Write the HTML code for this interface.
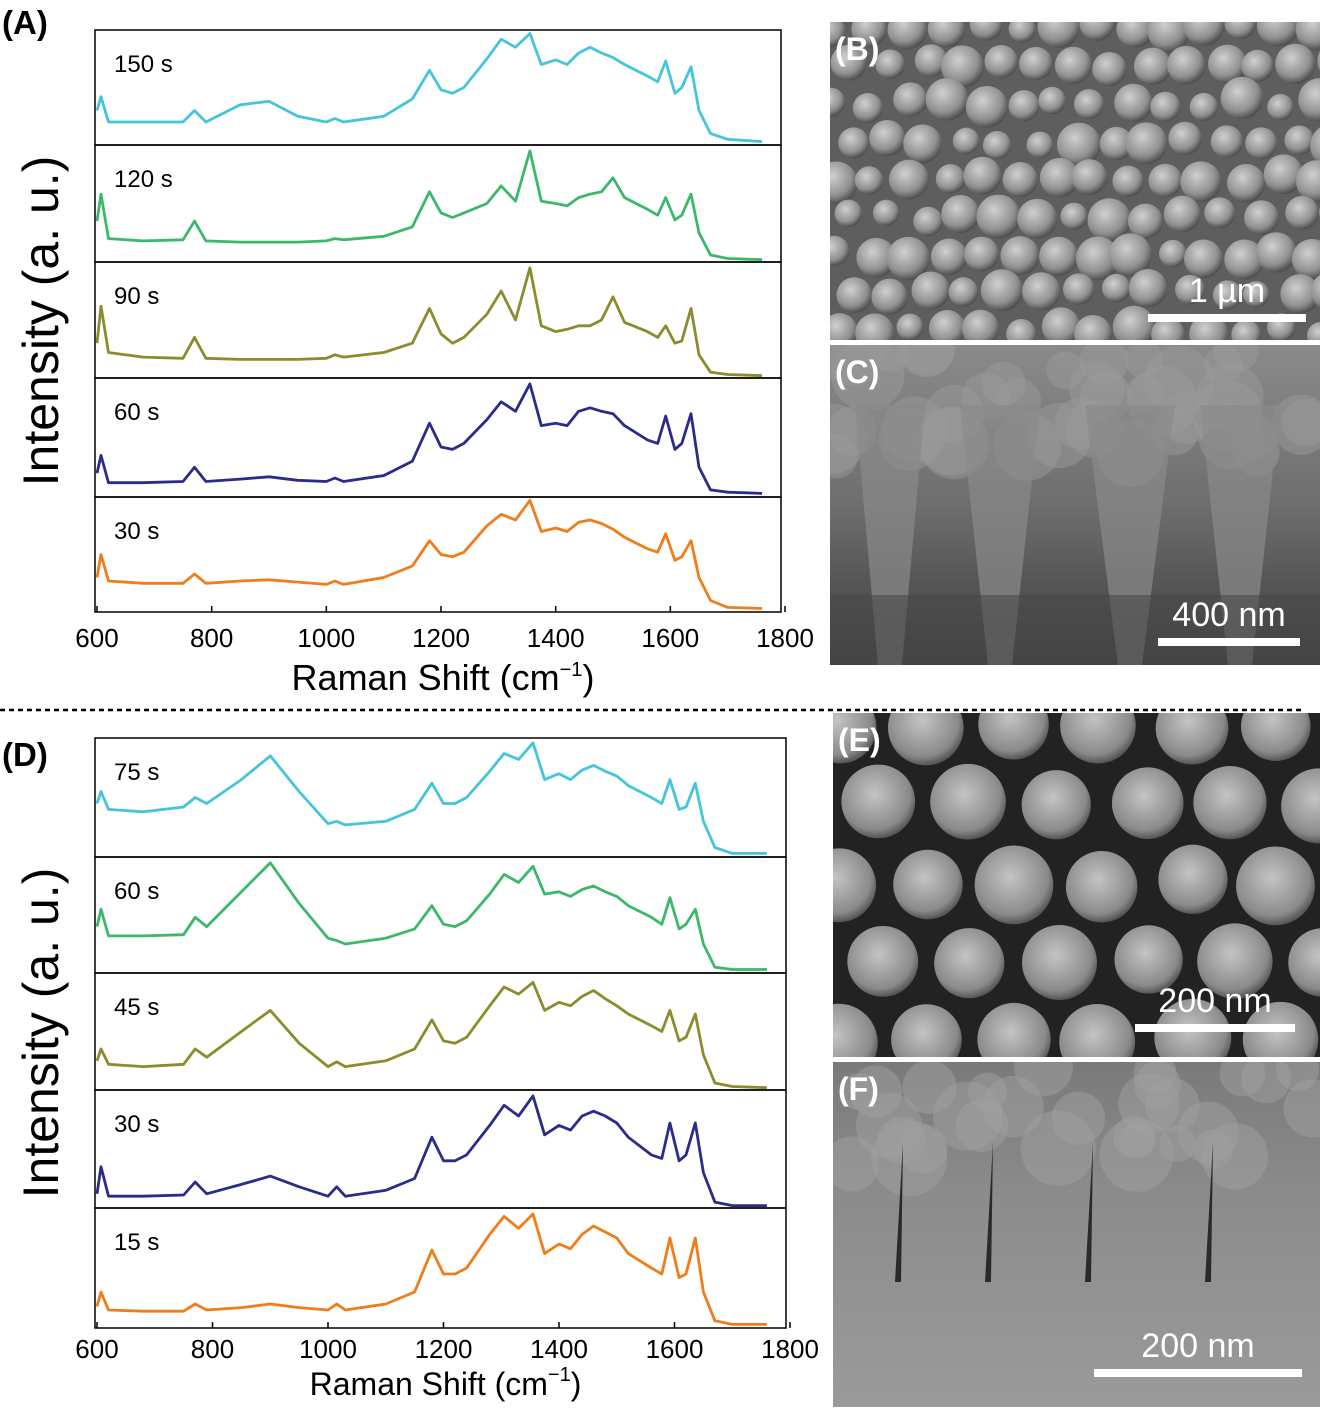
<!DOCTYPE html>
<html><head><meta charset="utf-8"><style>
html,body{margin:0;padding:0;background:#fff;}
svg{display:block;font-family:"Liberation Sans",Arial,sans-serif;}
</style></head>
<body>
<svg id="fig" width="1324" height="1410" viewBox="0 0 1324 1410" xmlns="http://www.w3.org/2000/svg">
<defs>
<radialGradient id="gB" cx="40%" cy="35%" r="65%"><stop offset="0" stop-color="#d0d0d0"/><stop offset="0.7" stop-color="#909090"/><stop offset="1" stop-color="#505050"/></radialGradient>
<radialGradient id="gE" cx="45%" cy="40%" r="60%"><stop offset="0" stop-color="#c4c4c4"/><stop offset="0.8" stop-color="#8a8a8a"/><stop offset="1" stop-color="#555"/></radialGradient>
<linearGradient id="gC" x1="0" y1="0" x2="0" y2="1"><stop offset="0" stop-color="#8a8a8a"/><stop offset="0.5" stop-color="#6e6e6e"/><stop offset="1" stop-color="#3c3c3c"/></linearGradient>
<linearGradient id="gF" x1="0" y1="0" x2="0" y2="1"><stop offset="0" stop-color="#7a7a7a"/><stop offset="0.4" stop-color="#8c8c8c"/><stop offset="1" stop-color="#9a9a9a"/></linearGradient>
</defs>
<g id="charts"></g>
<g id="sem"></g>
<line x1="0" y1="710" x2="1305" y2="710" stroke="#000" stroke-width="2.5" stroke-dasharray="5,4"/>
</svg>
<script>
const NS="http://www.w3.org/2000/svg";
// ---- chart data ----
const wavenumbers=[600,607,620,680,750,770,790,850,900,950,1000,1015,1030,1100,1150,1180,1200,1220,1240,1280,1305,1330,1355,1375,1400,1420,1440,1460,1480,1500,1520,1560,1578,1592,1608,1620,1636,1650,1670,1700,1760];
const xTickValues=[600,800,1000,1200,1400,1600,1800];
const xTickLabels=["600","800","1000","1200","1400","1600","1800"];
const labelsA=["150 s","120 s","90 s","60 s","30 s"];
const labelsD=["75 s","60 s","45 s","30 s","15 s"];
const colors=["#45c4dc","#3cb86a","#8c8c2e","#2b2b8a","#f07d1a"];
const seriesA150=[0.3,0.42,0.2,0.2,0.2,0.3,0.2,0.35,0.38,0.25,0.2,0.23,0.2,0.25,0.4,0.65,0.48,0.45,0.5,0.75,0.92,0.85,0.97,0.7,0.74,0.7,0.8,0.85,0.8,0.76,0.7,0.6,0.55,0.73,0.45,0.5,0.68,0.3,0.1,0.05,0.03];
const seriesA120=[0.35,0.58,0.2,0.18,0.19,0.35,0.18,0.17,0.17,0.17,0.18,0.2,0.19,0.22,0.3,0.6,0.42,0.38,0.42,0.5,0.65,0.52,0.95,0.52,0.5,0.48,0.55,0.58,0.6,0.72,0.55,0.45,0.4,0.55,0.36,0.4,0.58,0.25,0.06,0.03,0.02];
const seriesA90=[0.3,0.62,0.22,0.18,0.17,0.35,0.17,0.16,0.16,0.16,0.17,0.2,0.18,0.22,0.3,0.6,0.38,0.3,0.35,0.55,0.75,0.5,0.95,0.45,0.4,0.42,0.45,0.45,0.5,0.7,0.48,0.4,0.35,0.45,0.3,0.32,0.6,0.2,0.05,0.03,0.02];
const seriesA60=[0.2,0.35,0.12,0.12,0.13,0.25,0.13,0.15,0.17,0.14,0.13,0.16,0.13,0.18,0.3,0.62,0.42,0.4,0.45,0.65,0.8,0.72,0.95,0.6,0.62,0.6,0.72,0.75,0.72,0.7,0.6,0.48,0.45,0.68,0.4,0.45,0.7,0.25,0.06,0.04,0.03];
const seriesA30=[0.3,0.5,0.27,0.25,0.25,0.33,0.25,0.27,0.28,0.26,0.24,0.27,0.24,0.3,0.4,0.62,0.5,0.48,0.52,0.75,0.85,0.8,0.97,0.7,0.73,0.7,0.78,0.8,0.77,0.72,0.65,0.55,0.52,0.68,0.45,0.48,0.62,0.3,0.1,0.04,0.03];
const seriesD75=[0.45,0.55,0.4,0.38,0.42,0.5,0.45,0.65,0.85,0.55,0.28,0.3,0.27,0.3,0.4,0.62,0.45,0.45,0.5,0.72,0.87,0.82,0.96,0.65,0.7,0.65,0.73,0.77,0.72,0.68,0.6,0.5,0.45,0.65,0.4,0.42,0.62,0.3,0.08,0.03,0.03];
const seriesD60=[0.4,0.55,0.32,0.32,0.33,0.48,0.4,0.7,0.95,0.6,0.3,0.28,0.25,0.3,0.38,0.58,0.42,0.4,0.45,0.68,0.85,0.78,0.92,0.68,0.7,0.66,0.72,0.75,0.7,0.66,0.58,0.48,0.42,0.65,0.38,0.42,0.55,0.25,0.05,0.03,0.03];
const seriesD45=[0.25,0.35,0.22,0.2,0.22,0.35,0.28,0.5,0.68,0.4,0.2,0.24,0.2,0.25,0.35,0.6,0.42,0.4,0.45,0.72,0.88,0.82,0.92,0.68,0.75,0.72,0.8,0.85,0.78,0.72,0.65,0.55,0.5,0.68,0.42,0.45,0.65,0.3,0.06,0.03,0.02];
const seriesD30=[0.12,0.35,0.1,0.1,0.11,0.22,0.12,0.2,0.27,0.18,0.1,0.18,0.1,0.15,0.25,0.6,0.4,0.4,0.45,0.7,0.87,0.78,0.95,0.62,0.7,0.66,0.78,0.82,0.78,0.72,0.6,0.45,0.42,0.72,0.4,0.45,0.72,0.3,0.05,0.02,0.02];
const seriesD15=[0.18,0.3,0.15,0.14,0.14,0.2,0.15,0.17,0.2,0.17,0.15,0.2,0.15,0.2,0.3,0.65,0.45,0.45,0.5,0.78,0.93,0.83,0.95,0.62,0.7,0.66,0.78,0.85,0.8,0.75,0.62,0.5,0.45,0.75,0.42,0.45,0.75,0.3,0.06,0.03,0.03];

const charts=document.getElementById('charts');
function mk(tag,attrs,parent){const e=document.createElementNS(NS,tag);for(const k in attrs)e.setAttribute(k,attrs[k]);(parent||charts).appendChild(e);return e;}
function txt(s,attrs,parent){const e=mk('text',attrs,parent);e.textContent=s;return e;}

function panel(id,letter,labelY,boxEdges,xl,xr,series,labels,tickDy,titleDy,titleSize){
  const g=mk('g',{});
  
  
  const xScale=v=>xl+(v-600)/(1800-600)*(xr-xl);
  const pl=txt('('+letter+')',{x:2,y:labelY,'font-size':33,'font-weight':'bold'},g);
  
  
  for(let i=0;i<series.length;i++){
    const top=boxEdges[i],bot=boxEdges[i+1],h=bot-top;
    const yScale=f=>bot-f*h;
    const box=mk('rect',{x:xl-2,y:top,width:xr-xl-2,height:h,fill:'none',stroke:'#000','stroke-width':1.5},g);
    
    
    const pts=wavenumbers.filter(w=>w<=1760).map((w,j)=>xScale(w).toFixed(1)+','+yScale(series[i][j]).toFixed(1)).join(' ');
    const line=mk('polyline',{points:pts,fill:'none',stroke:colors[i],'stroke-width':2.8,'stroke-linejoin':'round'},g);
    
    
    const lb=txt(labels[i],{x:xl+17,y:top+42,'font-size':24},g);
    
    
  }
  const bottom=boxEdges[boxEdges.length-1];
  xTickValues.forEach((v,i)=>{
    const t=mk('line',{x1:xScale(v),x2:xScale(v),y1:bottom,y2:bottom-6,stroke:'#000','stroke-width':1.5},g);
    
    
    const l=txt(xTickLabels[i],{x:xScale(v),y:bottom+tickDy,'font-size':26,'text-anchor':'middle'},g);
    
    
  });
  const xt=txt('',{x:(xl+xr)/2+2,y:bottom+titleDy,'font-size':titleSize,'text-anchor':'middle'},g);
  xt.innerHTML='Raman Shift (cm<tspan dy="-14" font-size="20">−1</tspan><tspan dy="14">)</tspan>';
  
  
  const cy=(boxEdges[0]+bottom)/2;
  const yt=txt('Intensity (a. u.)',{x:0,y:0,'font-size':50,'text-anchor':'middle',transform:'translate(58,'+cy+') rotate(-90)'},g);
  
  
}
panel('a','A',34,[30,145,262,378,497,612],97,785,[seriesA150,seriesA120,seriesA90,seriesA60,seriesA30],labelsA,35,78,36);
panel('d','D',766,[738,857,973,1090,1208,1328],97,790,[seriesD75,seriesD60,seriesD45,seriesD30,seriesD15],labelsD,30,67,32);

// ---- SEM images (decorative) ----
const sem=document.getElementById('sem');
let seed=7;function rnd(){seed=(seed*16807)%2147483647;return seed/2147483647;}
function semImg(name,letter,x,y,w,h,bg,kind,bar,barLabel){
  const g=mk('g',{},sem);
  
  
  const cp=mk('clipPath',{id:'cp'+letter},g);
  mk('rect',{x:x,y:y,width:w,height:h},cp);
  const inner=mk('g',{'clip-path':'url(#cp'+letter+')'},g);
  mk('rect',{x:x,y:y,width:w,height:h,fill:bg},inner);
  if(kind==='grains'){
    for(let r=0;r<9;r++)for(let c=0;c<14;c++){
      const cx=x+c*37+(r%2)*18+rnd()*10,cyy=y+r*38+rnd()*10,rad=13+rnd()*9;
      mk('circle',{cx:cx,cy:cyy,r:rad,fill:'url(#gB)'},inner);
    }
  }else if(kind==='hex'){
    for(let r=0;r<5;r++)for(let c=0;c<6;c++){
      const cx=x+c*88+(r%2)*44+rnd()*8,cyy=y+10+r*78+rnd()*8,rad=34+rnd()*6;
      mk('circle',{cx:cx,cy:cyy,r:rad,fill:'url(#gE)'},inner);
    }
  }else if(kind==='pillars'){
    for(let i=0;i<40;i++){
      mk('circle',{cx:x+rnd()*w,cy:y+rnd()*h*0.35,r:18+rnd()*20,fill:'#9a9a9a',opacity:0.5},inner);
    }
    [[x+60,70],[x+170,80],[x+300,90],[x+410,80]].forEach(p=>{
      mk('path',{d:'M'+(p[0]-p[1]/2)+','+(y+60)+' L'+(p[0]+p[1]/2)+','+(y+60)+' L'+(p[0]+12)+','+(y+h)+' L'+(p[0]-12)+','+(y+h)+'Z',fill:'#8a8a8a',opacity:0.7},inner);
    });
    mk('rect',{x:x,y:y+h-70,width:w,height:70,fill:'#4a4a4a',opacity:0.6},inner);
  }else if(kind==='cross'){
    for(let i=0;i<30;i++){
      mk('circle',{cx:x+rnd()*w,cy:y+rnd()*h*0.3,r:18+rnd()*20,fill:'#a0a0a0',opacity:0.5},inner);
    }
    [x+70,x+160,x+260,x+380].forEach(px=>{
      mk('path',{d:'M'+px+','+(y+80)+' l-8,140 l6,0 z',fill:'#2a2a2a'},inner);
    });
  }
  const pl=txt('('+letter+')',{x:x+5,y:y+38,'font-size':32,'font-weight':'bold',fill:'#fff'},g);
  
  
  const sb=mk('rect',{x:bar[0],y:bar[1],width:bar[2],height:8,fill:'#fff'},g);
  
  
  const sl=txt(barLabel,{x:bar[0]+bar[2]/2,y:bar[1]-12,'font-size':34,fill:'#fff','text-anchor':'middle'},g);
  
  
}
semImg('sem-image-b','B',830,22,490,318,'#5e5e5e','grains',[1148,314,158],'1 µm');
semImg('sem-image-c','C',830,345,490,320,'url(#gC)','pillars',[1158,638,142],'400 nm');
semImg('sem-image-e','E',833,713,487,344,'#222','hex',[1135,1024,160],'200 nm');
semImg('sem-image-f','F',833,1062,487,345,'url(#gF)','cross',[1094,1369,208],'200 nm');
</script>
</body></html>
